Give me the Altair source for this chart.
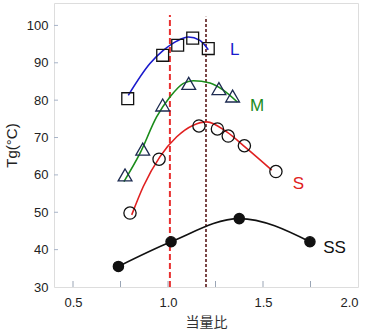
import altair as alt
import pandas as pd

# ---- data ----
L_x = [0.788, 0.972, 1.051, 1.130, 1.212]
L_y = [80.4, 92.0, 94.7, 96.6, 93.8]
L_cx = [0.791, 0.905, 0.975, 1.046, 1.107, 1.168, 1.212]
L_cy = [81.3, 89.8, 93.3, 95.8, 96.9, 96.0, 93.5]

M_x = [0.774, 0.867, 0.972, 1.109, 1.268, 1.340]
M_y = [60.0, 66.9, 78.7, 84.5, 83.1, 81.1]
M_cx = [0.768, 0.853, 0.940, 1.011, 1.081, 1.133, 1.221, 1.291, 1.365]
M_cy = [58.2, 65.8, 75.5, 80.9, 84.5, 85.2, 84.6, 82.7, 79.5]

S_x = [0.800, 0.953, 1.163, 1.260, 1.317, 1.402, 1.568]
S_y = [49.8, 64.2, 73.1, 72.3, 70.4, 67.8, 60.9]
S_cx = [0.809, 0.870, 0.958, 1.046, 1.133, 1.204, 1.309, 1.414, 1.546]
S_cy = [49.3, 56.9, 64.9, 70.2, 73.3, 74.2, 71.5, 67.1, 61.3]

SS_x = [0.739, 1.016, 1.375, 1.747]
SS_y = [35.5, 42.1, 48.3, 42.1]

labels = ["L", "M", "S", "SS"]
label_x = [1.326, 1.432, 1.656, 1.817]
label_y = [93.3, 78.4, 57.5, 40.5]
label_colors = ["#1a1acc", "#1a8c1a", "#e02020", "#111111"]

vline_x = [1.01, 1.2]
x_ticks = [0.5, 0.75, 1.0, 1.25, 1.5, 1.75, 2.0]
y_ticks = [30, 40, 50, 60, 70, 80, 90, 100]

FONT = "Liberation Sans, Arial, Noto Sans CJK JP"

xs = alt.Scale(domain=[0.4, 2.0], nice=False, zero=False)
ys = alt.Scale(domain=[30, 106], nice=False, zero=False)

def df(x, y):
    return pd.DataFrame({"x": x, "y": y})

X = alt.X("x:Q", scale=xs, title="当量比",
          axis=alt.Axis(values=x_ticks, labelExpr="datum.value % 0.5 == 0 ? format(datum.value, '.1f') : ''",
                        tickSize=0, domain=False, grid=False, labelPadding=9,
                        labelFontSize=13, labelColor="#222", labelFont=FONT,
                        titleFont="Noto Sans CJK JP", titleFontSize=14, titleFontWeight="normal",
                        titleColor="#333", titlePadding=6))
Y = alt.Y("y:Q", scale=ys, title="Tg(°C)",
          axis=alt.Axis(values=y_ticks, format="d", tickSize=0, domain=False, grid=False,
                        labelPadding=6, labelFontSize=13, labelColor="#222", labelFont=FONT,
                        titleFont=FONT, titleFontSize=15, titleFontWeight="normal",
                        titleColor="#222", titlePadding=7))

def curve(x, y, color):
    return alt.Chart(df(x, y)).mark_line(color=color, strokeWidth=1.6, interpolate="monotone").encode(x=X, y=Y)

def pts(x, y, shape, size, stroke, fill=None):
    kw = dict(shape=shape, size=size, stroke=stroke, strokeWidth=1.3)
    if fill:
        kw.update(filled=True, fill=fill, opacity=1)
    else:
        kw.update(filled=False, fillOpacity=0)
    return alt.Chart(df(x, y)).mark_point(**kw).encode(x=X, y=Y)

# inner ticks
xt = alt.Chart(pd.DataFrame({"x": x_ticks[:-1]})).mark_rule(color="#9aa5b5", strokeWidth=1).encode(
    x=alt.X("x:Q", scale=xs), y=alt.value(284), y2=alt.value(278))
yt = alt.Chart(pd.DataFrame({"y": y_ticks[1:]})).mark_rule(color="#a8b4c8", strokeWidth=1).encode(
    y=alt.Y("y:Q", scale=ys), x=alt.value(0), x2=alt.value(4))

vdf = pd.DataFrame({"x": vline_x, "y": [30, 30], "y2": [102.8, 102.3]})
v1 = alt.Chart(vdf.iloc[[0]]).mark_rule(color="#e83030", strokeWidth=2, strokeDash=[6, 3]).encode(
    x=alt.X("x:Q", scale=xs), y=alt.Y("y:Q", scale=ys), y2="y2")
v2 = alt.Chart(vdf.iloc[[1]]).mark_rule(color="#5a1a1a", strokeWidth=1.6, strokeDash=[3, 2]).encode(
    x=alt.X("x:Q", scale=xs), y=alt.Y("y:Q", scale=ys), y2="y2")

txt = alt.Chart(pd.DataFrame({"t": labels, "x": label_x, "y": label_y, "c": label_colors})).mark_text(
    align="left", baseline="middle", fontSize=17, font=FONT).encode(
    x=alt.X("x:Q", scale=xs), y=alt.Y("y:Q", scale=ys), text="t:N", color=alt.Color("c:N", scale=None))

chart = alt.layer(
    xt, yt, v1, v2,
    curve(L_cx, L_cy, "#1a1acc"),
    curve(M_cx, M_cy, "#1a8c1a"),
    curve(S_cx, S_cy, "#e02020"),
    curve(SS_x, SS_y, "#111111"),
    pts(L_x, L_y, "square", 140, "#111"),
    pts(M_x, M_y, "triangle-up", 190, "#1c2a50"),
    pts(S_x, S_y, "circle", 150, "#111"),
    pts(SS_x, SS_y, "circle", 105, "#111", fill="#111"),
    txt,
).properties(
    width=304, height=284,
    autosize=alt.AutoSizeParams(type="none"),
    padding={"left": 54, "top": 3, "right": 10, "bottom": 44},
).configure_view(stroke="#6b7585", strokeWidth=1.6).configure(background="white")

chart.save("out.html", embed_options={"renderer": "svg", "actions": False})
